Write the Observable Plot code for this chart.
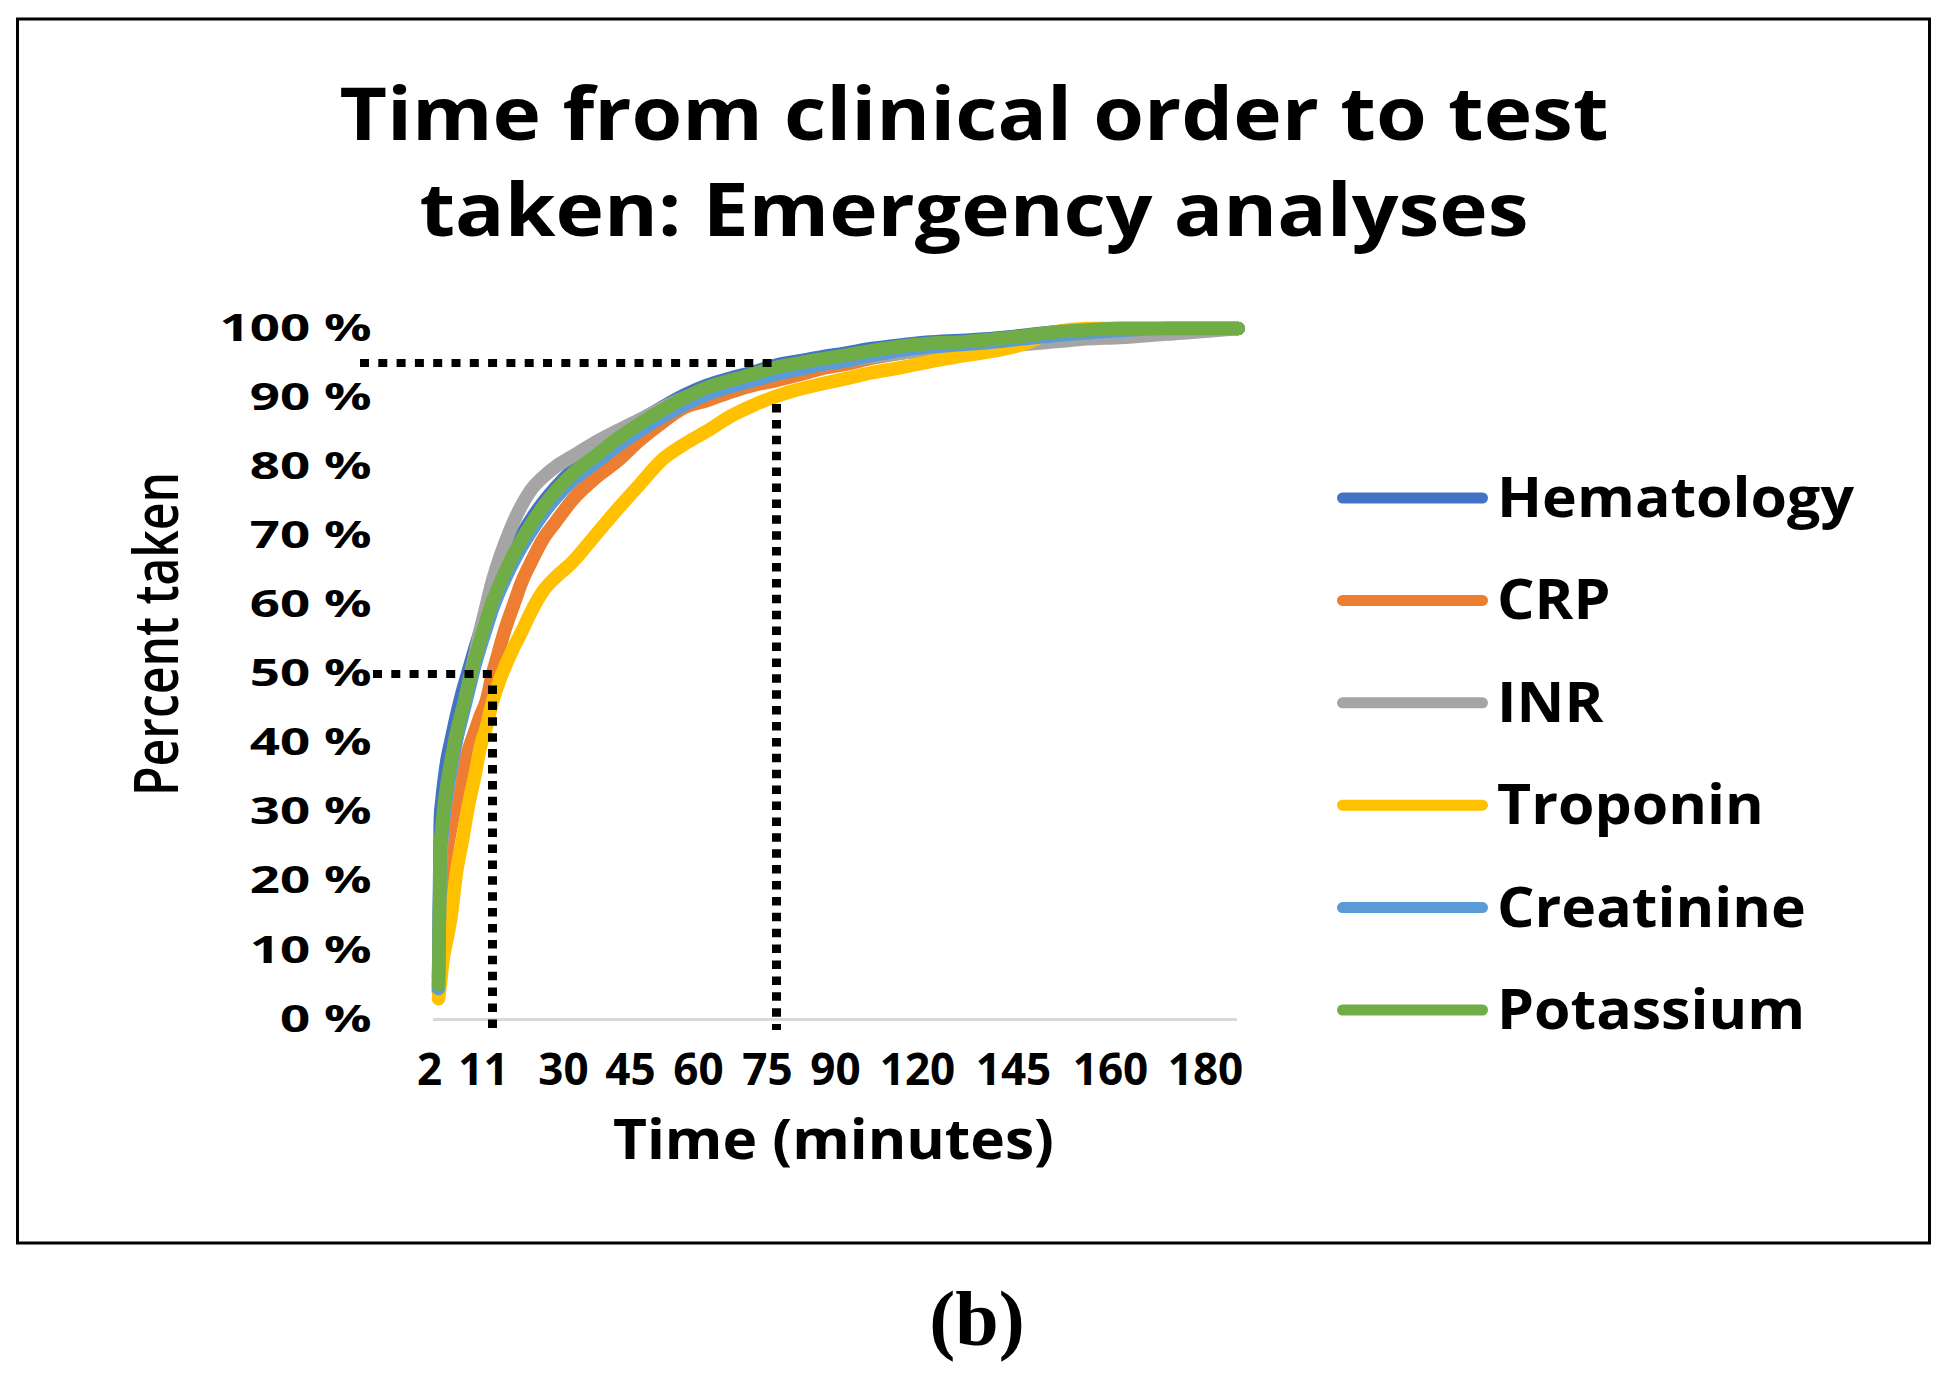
<!DOCTYPE html>
<html>
<head>
<meta charset="utf-8">
<script src="https://cdn.jsdelivr.net/npm/d3@7"></script>
<script src="https://cdn.jsdelivr.net/npm/@observablehq/plot@0.6"></script>
<style>
html, body { margin: 0; padding: 0; background: #fff; overflow: hidden; }
#chart svg { display: block; }
</style>
</head>
<body>
<div id="chart"></div>
<script>
// ---------------- DATA ----------------
const titleLines = ["Time from clinical order to test", "taken: Emergency analyses"];
const xTitle = "Time (minutes)";
const yTitle = "Percent taken";
const panelLabel = "(b)";

const seriesNames = ["Hematology", "CRP", "INR", "Troponin", "Creatinine", "Potassium"];

// time in minutes
const times = [2, 2.3, 2.6, 3, 3.5, 4, 5, 6, 7, 8, 9, 10, 11, 12, 14, 16, 18, 20, 23, 26, 30,
  35, 40, 45, 50, 55, 60, 65, 70, 75, 80, 85, 90, 100, 110, 120, 130, 140, 145, 150, 155, 160, 170, 180, 185];

// cumulative share taken
const hematology = [.06, .29, .32, .35, .38, .40, .44, .475, .505, .535, .563, .59, .615, .63, .655, .68, .702, .722, .748, .77, .795,
  .82, .845, .866, .886, .904, .918, .928, .937, .947, .953, .959, .964, .971, .976, .98, .983, .987, .99, .995, .998, 1, 1, 1, 1];
const crp = [.04, .15, .19, .22, .25, .275, .32, .36, .39, .415, .44, .462, .50, .522, .565, .60, .634, .66, .695, .72, .752,
  .783, .808, .838, .864, .886, .896, .908, .918, .925, .933, .942, .948, .957, .964, .970, .977, .983, .986, .99, .994, .997, 1, 1, 1];
const inr = [.04, .22, .26, .30, .33, .355, .405, .445, .485, .525, .565, .60, .635, .655, .69, .72, .745, .765, .785, .80, .815,
  .835, .852, .868, .885, .90, .912, .921, .929, .936, .942, .948, .953, .959, .964, .968, .972, .975, .977, .981, .985, .987, .992, .997, 1];
const troponin = [.03, .05, .075, .10, .12, .144, .213, .26, .31, .35, .395, .424, .46, .479, .511, .538, .562, .588, .62, .64, .662,
  .70, .738, .774, .81, .833, .852, .873, .889, .902, .912, .92, .927, .936, .943, .951, .961, .97, .977, .995, 1, 1, 1, 1, 1];
const creatinine = [.045, .24, .27, .305, .335, .36, .405, .44, .475, .51, .54, .567, .594, .61, .638, .663, .685, .705, .732, .755, .78,
  .805, .83, .852, .872, .89, .905, .916, .925, .934, .941, .948, .953, .961, .968, .973, .977, .982, .985, .99, .994, .997, 1, 1, 1];
const potassium = [.05, .25, .28, .315, .345, .37, .415, .45, .485, .52, .55, .578, .605, .62, .648, .673, .695, .715, .742, .765, .79,
  .815, .84, .862, .882, .90, .915, .925, .934, .944, .95, .956, .961, .968, .974, .978, .981, .986, .989, .995, .998, 1, 1, 1, 1];

const xTicks = [2, 11, 30, 45, 60, 75, 90, 120, 145, 160, 180];
const yTicks = [0, .1, .2, .3, .4, .5, .6, .7, .8, .9, 1];

// reference (dotted) guide lines: median and 95th percentile
const guideTimes = [11, 75];
const guideLevels = [0.5, 0.95];
const guideVerticalTops = [0.5, 0.89];

// ---------------- STYLE / LAYOUT ----------------
const seriesColors = ["#4472C4", "#ED7D31", "#A5A5A5", "#FFC000", "#5B9BD5", "#70AD47"];
const W = 1947, H = 1374;
const plotLeft = 433, plotRight = 1237, plotTop = 328, plotBottom = 1019;
const xTickPixels = [438, 492, 572, 639, 707, 776, 844, 926, 1022, 1119, 1214];
const FONT = "'Open Sans', 'DejaVu Sans', sans-serif";

const seriesValues = [hematology, crp, inr, troponin, creatinine, potassium];
const rows = seriesNames.flatMap((name, i) => times.map((t, j) => ({series: name, t, v: seriesValues[i][j]})));

const hGuide = (k) => [{y: guideLevels[k], x1: xTicks[0], x2: guideTimes[k]}];
const vGuide = (k) => [{x: guideTimes[k], y1: guideVerticalTops[k], y2: 0}];

const dotted = {stroke: "black"};

const chart = Plot.plot({
  width: W,
  height: H,
  marginLeft: plotLeft,
  marginRight: W - plotRight,
  marginTop: plotTop,
  marginBottom: H - plotBottom,
  style: {fontFamily: FONT, background: "white", overflow: "visible", color: "black"},
  x: {type: "linear", domain: xTicks, range: xTickPixels},
  y: {domain: [0, 1]},
  color: {domain: seriesNames, range: seriesColors},
  marks: [
    Plot.ruleY([0], {stroke: "#d9d9d9", strokeWidth: 3}),
    Plot.line(rows, {x: "t", y: "v", z: "series", stroke: "series", strokeWidth: 13.5,
      strokeLinecap: "round", strokeLinejoin: "round", curve: "monotone-x"}),
    Plot.ruleY(hGuide(1), {y: "y", x1: "x1", x2: "x2", insetLeft: -78, ...dotted, strokeWidth: 8, strokeDasharray: "9,9.3"}),
    Plot.ruleY(hGuide(0), {y: "y", x1: "x1", x2: "x2", insetLeft: -65, ...dotted, strokeWidth: 8, strokeDasharray: "9,9.3"}),
    Plot.ruleX(vGuide(0), {x: "x", y1: "y1", y2: "y2", insetTop: 12, insetBottom: -11, ...dotted, strokeWidth: 9, strokeDasharray: "8.5,7.4"}),
    Plot.ruleX(vGuide(1), {x: "x", y1: "y1", y2: "y2", insetBottom: -11, ...dotted, strokeWidth: 9, strokeDasharray: "8.5,7.4"}),
    Plot.axisX(xTicks, {tickSize: 0, tickPadding: 34, fontSize: 44, fontWeight: 700, dx: -9,
      tickFormat: d => String(d), label: null}),
    Plot.axisY(yTicks, {tickSize: 0, tickPadding: 62, fontSize: 38, fontWeight: 700,
      tickFormat: d => `${Math.round(d * 100)} %`, label: null})
  ]
});

document.getElementById("chart").append(chart);

// stretch y tick labels (the original is horizontally widened)
const yt = Array.from(chart.querySelectorAll('[aria-label="y-axis tick label"] text'));
const refY = yt.find(t => t.textContent.trim() === "100 %");
const sY = refY ? 152 / refY.getComputedTextLength() : 1.35;
yt.forEach(t => {
  const w = t.getComputedTextLength();
  t.setAttribute("textLength", w * sY);
  t.setAttribute("lengthAdjust", "spacingAndGlyphs");
});

const svg = d3.select(chart);

// frame
svg.append("rect")
  .attr("x", 17.5).attr("y", 19).attr("width", 1912).attr("height", 1224)
  .attr("fill", "none").attr("stroke", "black").attr("stroke-width", 3);

// title
const titleTargets = [1269, 1109];
const titleBaselines = [140, 236];
titleLines.forEach((line, i) => {
  svg.append("text")
    .attr("x", 974).attr("y", titleBaselines[i])
    .attr("text-anchor", "middle")
    .attr("font-family", FONT).attr("font-weight", 700).attr("font-size", 73)
    .attr("fill", "black")
    .attr("textLength", titleTargets[i]).attr("lengthAdjust", "spacingAndGlyphs")
    .text(line);
});

// x axis title
svg.append("text")
  .attr("x", 833.5).attr("y", 1159)
  .attr("text-anchor", "middle")
  .attr("font-family", FONT).attr("font-weight", 700).attr("font-size", 56)
  .attr("fill", "black")
  .attr("textLength", 441).attr("lengthAdjust", "spacingAndGlyphs")
  .text(xTitle);

// y axis title
svg.append("text")
  .attr("transform", "translate(178,634) rotate(-90) scale(1,1.23)")
  .attr("text-anchor", "middle")
  .attr("font-family", FONT).attr("font-weight", 600).attr("font-size", 50)
  .attr("fill", "black")
  .attr("textLength", 324).attr("lengthAdjust", "spacingAndGlyphs")
  .text(yTitle);

// legend
const legendTop = 498, legendStep = 102.4;
const lg = svg.append("g").attr("text-anchor", "start");
const legendTexts = [];
seriesNames.forEach((name, i) => {
  const yy = legendTop + i * legendStep;
  lg.append("line")
    .attr("x1", 1342.5).attr("x2", 1482.5).attr("y1", yy).attr("y2", yy)
    .attr("stroke", seriesColors[i]).attr("stroke-width", 11).attr("stroke-linecap", "round");
  const t = lg.append("text")
    .attr("x", 1497).attr("y", yy + 19)
    .attr("text-anchor", "start")
    .attr("font-family", FONT).attr("font-weight", 700).attr("font-size", 55)
    .attr("fill", "black")
    .text(name);
  legendTexts.push(t.node());
});
const sL = 357 / legendTexts[0].getComputedTextLength();
legendTexts.forEach(t => {
  const w = t.getComputedTextLength();
  t.setAttribute("textLength", w * sL);
  t.setAttribute("lengthAdjust", "spacingAndGlyphs");
});

// panel label
svg.append("text")
  .attr("x", 977).attr("y", 1345)
  .attr("text-anchor", "middle")
  .attr("font-family", "'Liberation Serif', 'DejaVu Serif', serif")
  .attr("font-weight", 700).attr("font-size", 78)
  .attr("fill", "black")
  .text(panelLabel);
</script>
</body>
</html>
